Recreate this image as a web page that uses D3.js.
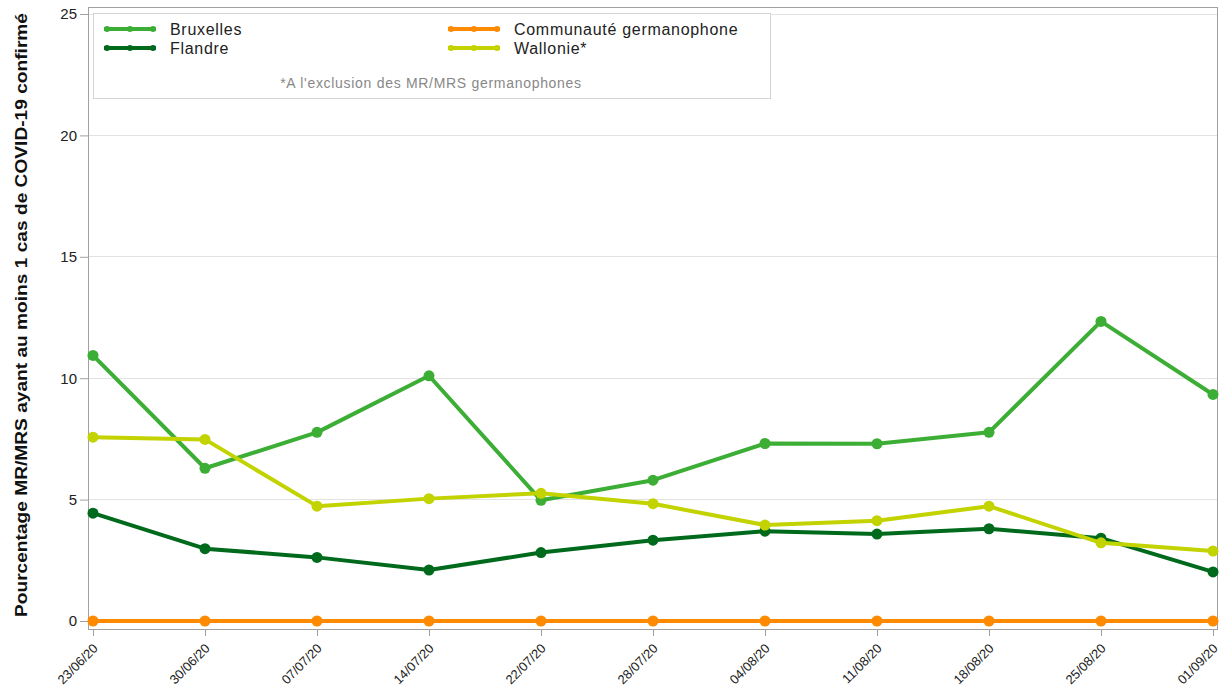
<!DOCTYPE html>
<html><head><meta charset="utf-8">
<script src="https://cdn.jsdelivr.net/npm/d3@7"></script>
<style>body{margin:0;background:#fff;font-family:"Liberation Sans",Arial,sans-serif;}</style>
</head><body><svg id="c" width="1224" height="691"></svg>
<script>
const dates = ["23/06/20","30/06/20","07/07/20","14/07/20","22/07/20","28/07/20","04/08/20","11/08/20","18/08/20","25/08/20","01/09/20"];
const bruxelles = [10.94,6.29,7.77,10.1,4.97,5.8,7.31,7.3,7.77,12.34,9.33];
const flandre = [4.44,2.98,2.62,2.1,2.82,3.33,3.7,3.58,3.8,3.41,2.02];
const germanophone = [0,0,0,0,0,0,0,0,0,0,0];
const wallonie = [7.57,7.48,4.73,5.04,5.26,4.83,3.95,4.13,4.73,3.22,2.88];
const yTicks = [0,5,10,15,20,25];
const seriesNames = ["Bruxelles","Flandre","Communauté germanophone","Wallonie*"];
const seriesColors = ["#3cae35","#006a1c","#ff8a00","#c2d300"];

const series = [
  {name:seriesNames[0], values:bruxelles, color:seriesColors[0]},
  {name:seriesNames[1], values:flandre, color:seriesColors[1]},
  {name:seriesNames[2], values:germanophone, color:seriesColors[2]},
  {name:seriesNames[3], values:wallonie, color:seriesColors[3]}
];

const svg = d3.select("#c");
const L=88, R=1217, T=7, B=629;
const x = d3.scalePoint().domain(dates).range([93,1213]);
const y = d3.scaleLinear().domain([0,25]).range([621,14]);

// gridlines
svg.append("g").selectAll("line").data(yTicks.filter(d=>d>0)).join("line")
  .attr("x1",L).attr("x2",R).attr("y1",d=>y(d)).attr("y2",d=>y(d))
  .attr("stroke","#e2e2e2").attr("stroke-width",1).attr("shape-rendering","crispEdges");

// frame
svg.append("rect").attr("x",L).attr("y",T).attr("width",R-L).attr("height",B-T)
  .attr("fill","none").attr("stroke","#a0a0a0").attr("stroke-width",1).attr("shape-rendering","crispEdges");

// y axis
const ya = svg.append("g").attr("transform",`translate(${L},0)`)
  .call(d3.axisLeft(y).tickValues(yTicks).tickSize(8).tickPadding(3).tickFormat(d3.format("d")));
ya.select(".domain").remove();
ya.selectAll("line").attr("stroke","#a0a0a0");
ya.selectAll("text").attr("font-size",15).attr("fill","#222").attr("font-family","Liberation Sans, Arial, sans-serif");

// x axis
const xa = svg.append("g").attr("transform",`translate(0,${B})`)
  .call(d3.axisBottom(x).tickSize(7).tickPadding(4));
xa.select(".domain").remove();
xa.selectAll("line").attr("stroke","#a0a0a0");
xa.selectAll("text").attr("font-size",13).attr("fill","#222").attr("font-family","Liberation Sans, Arial, sans-serif")
  .attr("text-anchor","end").attr("x",0).attr("y",0).attr("dy","0.35em")
  .attr("transform","translate(2,17) rotate(-45)");

// y title
svg.append("text").attr("transform","translate(27,315) rotate(-90)")
  .attr("text-anchor","middle").attr("font-weight","bold").attr("font-size",17)
  .attr("textLength",604).attr("lengthAdjust","spacingAndGlyphs")
  .attr("fill","#111").text("Pourcentage MR/MRS ayant au moins 1 cas de COVID-19 confirmé");

// legend
const lg = svg.append("g");
lg.append("rect").attr("x",93.5).attr("y",13.5).attr("width",677).attr("height",85)
  .attr("fill","#fff").attr("stroke","#d4d4d4").attr("shape-rendering","crispEdges");
const lpos = [[104,29],[104,48],[448,29],[448,48]];
series.forEach((s,i)=>{
  const [lx,ly]=lpos[i];
  lg.append("line").attr("x1",lx).attr("x2",lx+52).attr("y1",ly).attr("y2",ly)
    .attr("stroke",s.color).attr("stroke-width",4);
  [lx+3,lx+26,lx+49].forEach(cx=>lg.append("circle").attr("cx",cx).attr("cy",ly).attr("r",3).attr("fill",s.color));
  lg.append("text").attr("x",lx+66).attr("y",ly).attr("dy","0.35em").attr("font-size",16)
    .attr("letter-spacing",0.7).attr("fill","#222").text(s.name);
});
lg.append("text").attr("x",431).attr("y",83).attr("dy","0.35em").attr("text-anchor","middle")
  .attr("font-size",14).attr("letter-spacing",0.7).attr("fill","#888").text("*A l'exclusion des MR/MRS germanophones");

// series
const line = d3.line().x((d,i)=>x(dates[i])).y(d=>y(d));
series.forEach(s=>{
  const g=svg.append("g");
  g.append("path").datum(s.values).attr("d",line).attr("fill","none")
    .attr("stroke",s.color).attr("stroke-width",4).attr("stroke-linejoin","round");
  g.selectAll("circle").data(s.values).join("circle")
    .attr("cx",(d,i)=>x(dates[i])).attr("cy",d=>y(d)).attr("r",5.5).attr("fill",s.color);
});
</script></body></html>
